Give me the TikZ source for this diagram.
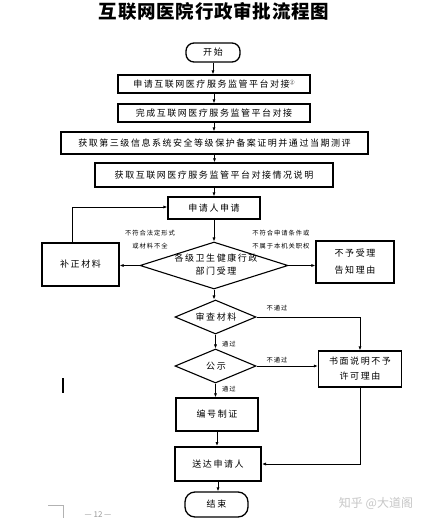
\documentclass[tikz,border=0pt]{standalone}
\usepackage{fontspec}
\setmainfont{Noto Sans CJK SC}
\newfontfamily\cjk[LetterSpace=17]{Noto Sans CJK SC}
\newfontfamily\cjksmall[LetterSpace=15]{Noto Sans CJK SC}
\newfontfamily\cjktitle[LetterSpace=4]{Noto Sans CJK SC}
\usetikzlibrary{shapes.geometric,arrows.meta}
\tikzset{
  proc/.style={draw, line width=1.3pt, inner sep=0pt, align=center,
    font=\cjk\fontsize{9}{13}\selectfont},
  term/.style={proc, rounded corners=8pt},
  decide/.style={draw, diamond, line width=1.1pt, inner sep=0pt},
  dtext/.style={inner sep=0pt, align=center, font=\cjk\fontsize{9}{13}\selectfont},
  lbl/.style={inner sep=0pt, align=center, font=\cjksmall\fontsize{6.3}{12.5}\selectfont},
  arr/.style={line width=0.8pt, -{Latex[length=4pt,width=3.2pt]}},
  gray1/.style={text=black!35, draw=black!35}
}
\begin{document}
\begin{tikzpicture}[x=1pt,y=-1pt]
\useasboundingbox (0,0) rectangle (427,523);
\fill[white] (0,0) rectangle (427,523);
% title
\node[inner sep=0pt, font=\cjktitle\bfseries\fontsize{18.5}{20}\selectfont] (title) at (214,11) {互联网医院行政审批流程图};
% main column
\node[term, minimum width=54pt, minimum height=19pt] (start) at (213,52.5) {开始};
\node[proc, minimum width=192pt, minimum height=18pt] (b1) at (214,84) {申请互联网医疗服务监管平台对接\raisebox{3pt}{\fontsize{5}{5}\selectfont ②}};
\node[proc, minimum width=192pt, minimum height=18pt] (b2) at (214,113) {完成互联网医疗服务监管平台对接};
\node[proc, minimum width=307pt, minimum height=22pt] (b3) at (214.5,143) {获取第三级信息系统安全等级保护备案证明并通过当期测评};
\node[proc, minimum width=238pt, minimum height=24pt] (b4) at (214,175) {获取互联网医疗服务监管平台对接情况说明};
\node[proc, minimum width=92pt, minimum height=22pt] (b5) at (214,208) {申请人申请};
\node[decide, minimum width=148pt, minimum height=47pt] (d1) at (214,265.5) {};
\node[dtext] (d1t) at (216,265) {各级卫生健康行政\\部门受理};
\node[proc, minimum width=77pt, minimum height=43pt] (bz) at (80.5,264.5) {补正材料};
\node[proc, minimum width=78pt, minimum height=42pt, font=\cjk\fontsize{9}{17}\selectfont] (bn) at (355,262) {不予受理\\告知理由};
\node[decide, minimum width=81pt, minimum height=34pt] (d2) at (215.5,317) {};
\node[dtext] (d2t) at (216,317) {审查材料};
\node[decide, minimum width=81pt, minimum height=34pt] (d3) at (215.5,366) {};
\node[dtext] (d3t) at (216,366) {公示};
\node[proc, minimum width=83pt, minimum height=36pt, font=\cjk\fontsize{9}{15}\selectfont] (bs) at (360,369) {书面说明不予\\许可理由};
\node[proc, minimum width=82pt, minimum height=33pt] (bh) at (217,414.5) {编号制证};
\node[proc, line width=2pt, minimum width=86pt, minimum height=34pt] (bd) at (218,464) {送达申请人};
\node[term, rounded corners=10pt, minimum width=63pt, minimum height=25pt] (end) at (216.5,504.5) {结束};
% labels
\node[lbl] (l1) at (150,239.5) {不符合法定形式\\或材料不全};
\node[lbl] (l2) at (281,239.5) {不符合申请条件或\\不属于本机关职权};
\node[lbl] (l3) at (277,308) {不通过};
\node[lbl] (l4) at (229,344) {通过};
\node[lbl] (l5) at (277,360) {不通过};
\node[lbl] (l6) at (229,389) {通过};
% connectors
\draw[arr] (start.south) -- (start.south |- b1.north);
\draw[arr] (b1.south) -- (b2.north);
\draw[arr] (b2.south) -- (b2.south |- b3.north);
\draw[arr] (b3.south) -- (b3.south |- b4.north);
\draw[arr] (b4.south) -- (b4.south |- b5.north);
\draw[arr] (b5.south) -- (d1.north);
\draw[arr] (d1.west) -- (d1.west -| bz.east);
\draw[arr] (d1.east) -- (d1.east -| bn.west);
\coordinate (c1) at (72,207);
\draw[arr] (c1 |- bz.north) -- (c1) -- (c1 -| b5.west);
\draw[arr] (d1.south) -- (d1.south |- d2.north);
\draw[arr] (d2.south) -- (d3.north);
\draw[arr] (d2.east) -| (bs.north);
\draw[arr] (d3.east) -- (d3.east -| bs.west);
\draw[arr] (d3.south) -- (d3.south |- bh.north);
\draw[arr] (bh.south) -- (bh.south |- bd.north);
\draw[arr] (bs.south) |- (bd.east);
\draw[arr] (bd.south) -- (bd.south |- end.north);
% page artefacts
\coordinate (cur) at (63,378);
\draw[line width=1.6pt] (cur) -- ++(0,15);
\coordinate (crop) at (63,505);
\draw[black!30, line width=0.6pt] (48,505) -- (crop) -- ++(0,13);
\node[inner sep=0pt, text=black!40, font=\fontsize{8}{9}\selectfont] (pg) at (98,515) {— 12 —};
\node[inner sep=0pt, text=black!22, font=\fontsize{12}{13}\selectfont] (wm) at (376,503) {知乎 @大道阁};
\end{tikzpicture}
\end{document}
